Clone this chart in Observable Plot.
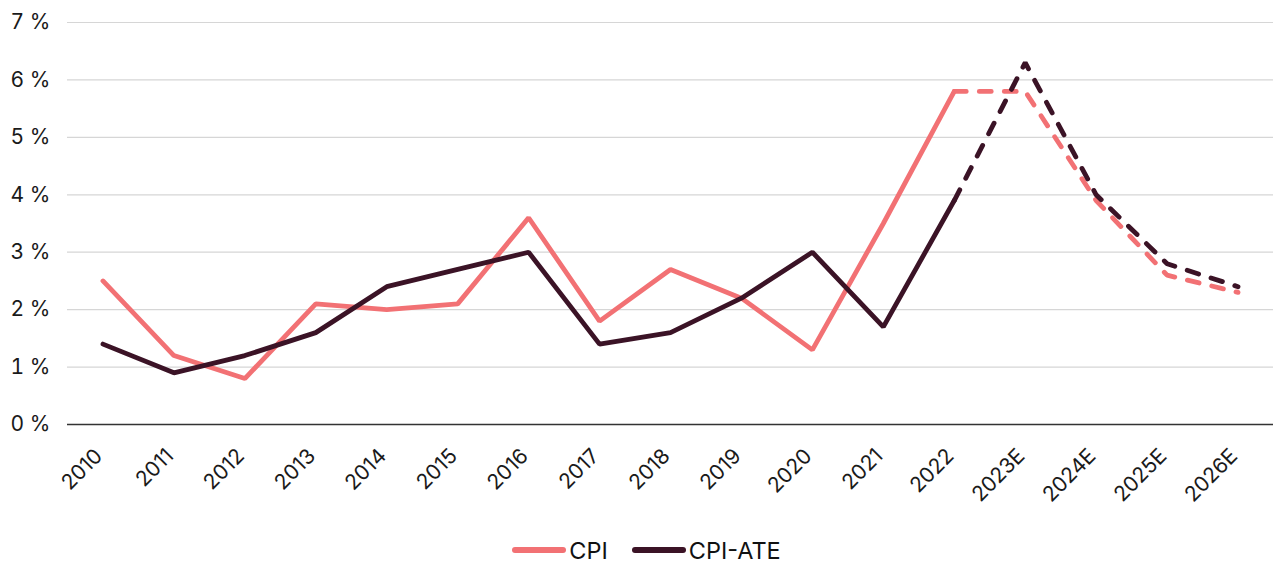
<!DOCTYPE html>
<html>
<head>
<meta charset="utf-8">
<script src="https://cdn.jsdelivr.net/npm/d3@7"></script>
<script src="https://cdn.jsdelivr.net/npm/@observablehq/plot@0.6"></script>
<style>
  html, body { margin: 0; padding: 0; background: #fff; }
  body { width: 1273px; height: 562px; overflow: hidden; font-family: Inter, "Open Sans", sans-serif; }
  #legend { display: flex; justify-content: center; align-items: center; height: 50px; font-size: 23.5px; color: #111; padding-left: 20px; margin-top: 0px; }
  .item { display: flex; align-items: center; margin: 0 12px; }
  .sw { width: 54px; height: 6px; border-radius: 3px; margin-right: 3px; }
</style>
</head>
<body>
<div id="chart"></div>
<div id="legend"></div>
<script>
const years = ["2010","2011","2012","2013","2014","2015","2016","2017","2018","2019","2020","2021","2022","2023E","2024E","2025E","2026E"];
const cpi    = [2.5, 1.2, 0.8, 2.1, 2.0, 2.1, 3.6, 1.8, 2.7, 2.2, 1.3, 3.5, 5.8, 5.8, 3.9, 2.6, 2.3];
const cpiAte = [1.4, 0.9, 1.2, 1.6, 2.4, 2.7, 3.0, 1.4, 1.6, 2.2, 3.0, 1.7, 3.9, 6.3, 4.0, 2.8, 2.4];
const seriesNames = ["CPI", "CPI-ATE"];
const colors = ["#f27174", "#3b1326"];
const yTicks = [0, 1, 2, 3, 4, 5, 6, 7];
const lastActual = "2022";

const splitIdx = years.indexOf(lastActual);
const rows = [];
[cpi, cpiAte].forEach((vals, s) => {
  vals.forEach((v, i) => rows.push({year: years[i], value: v, series: seriesNames[s], i}));
});
const solid = rows.filter(d => d.i <= splitIdx);
const dashed = rows.filter(d => d.i >= splitIdx);

const marks = [
  Plot.gridY(yTicks.filter(t => t > 0), {stroke: "#d6d6d6", strokeOpacity: 1, strokeWidth: 1.2}),
  Plot.ruleY([0], {stroke: "#333", strokeWidth: 1.5})
];
seriesNames.forEach((name, s) => {
  marks.push(Plot.line(solid.filter(d => d.series === name), {x: "year", y: "value", stroke: colors[s], strokeWidth: 4.8, strokeLinejoin: "miter", strokeLinecap: "round"}));
  marks.push(Plot.line(dashed.filter(d => d.series === name), {x: "year", y: "value", stroke: colors[s], strokeWidth: 4.8, strokeDasharray: "12,13", strokeLinecap: "round", strokeLinejoin: "miter"}));
});
marks.push(Plot.axisY({ticks: yTicks, tickFormat: d => d + " %", tickSize: 0, tickPadding: 17, fontSize: 21, label: null}));
marks.push(Plot.axisX({tickSize: 0, tickRotate: -45, tickPadding: 28, dx: -4, fontSize: 21, label: null}));

const chart = Plot.plot({
  width: 1273,
  height: 525,
  marginLeft: 67,
  marginRight: 0,
  marginTop: 22,
  marginBottom: 101,
  style: {fontFamily: "Inter, 'Open Sans', sans-serif", color: "#1a1a1a", background: "#fff", overflow: "visible"},
  x: {type: "point", domain: years, padding: 0.5, round: false},
  y: {domain: [0, 7]},
  marks
});
document.getElementById("chart").appendChild(chart);

const legend = document.getElementById("legend");
seriesNames.forEach((name, s) => {
  const item = document.createElement("div");
  item.className = "item";
  const sw = document.createElement("div");
  sw.className = "sw";
  sw.style.background = colors[s];
  const label = document.createElement("span");
  label.textContent = name;
  item.appendChild(sw);
  item.appendChild(label);
  legend.appendChild(item);
});
</script>
</body>
</html>
